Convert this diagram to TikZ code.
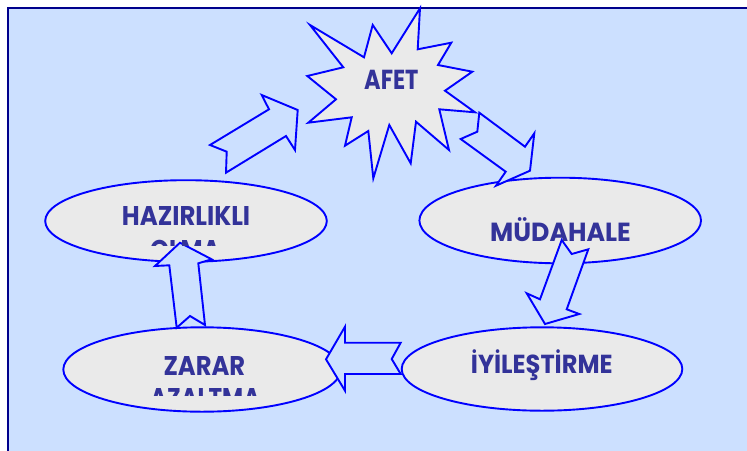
\documentclass[tikz,border=0pt]{standalone}
\usepackage{fontspec}
\setmainfont{Poppins}
\definecolor{bgblue}{RGB}{204,224,255}
\definecolor{framenavy}{RGB}{0,0,140}
\definecolor{shapeblue}{RGB}{0,0,255}
\definecolor{shapegray}{RGB}{234,234,234}
\definecolor{txtblue}{RGB}{51,51,153}
\newlength\fitW
\newlength\fitH
\newcommand\fittext[3]{%
  \settowidth\fitW{\bfseries #3}%
  \settoheight\fitH{\bfseries H}%
  \pgfmathsetmacro\fitsx{#1/\fitW}%
  \pgfmathsetmacro\fitsy{#2/\fitH}%
  \scalebox{\fitsx}[\fitsy]{\bfseries #3}}
\tikzset{
  outl/.style={draw=shapeblue, line width=1.9pt, line join=miter},
  bubble/.style={outl, fill=shapegray},
  blockarrow/.style={outl, fill=bgblue},
  lbl/.style={anchor=base west, inner sep=0pt, text=txtblue},
}
\begin{document}
\begin{tikzpicture}[x=1pt,y=-1pt]
\useasboundingbox (0,0) rectangle (747,450);
\fill[white] (0,0) rectangle (747,450);
\draw[fill=bgblue, draw=framenavy, line width=2pt] (8,7.5) rectangle (770,470);
% star
\draw[bubble] (310,25) -- (364,57.3) -- (372.7,25) -- (391.7,53.3) -- (420,8.3) -- (417.7,49.3)
  -- (451.3,42.7) -- (438,65) -- (472.3,71.7) -- (445,90.7) -- (475,112.3) -- (439.3,109.3)
  -- (449,150) -- (416,121.7) -- (410.7,163.3) -- (389.3,125) -- (373.3,178.3) -- (368.3,131)
  -- (345,145.7) -- (351.7,117.3) -- (308.3,122.7) -- (336,99.3) -- (307.3,76) -- (343.3,67.3) -- cycle;
% ellipses
\draw[bubble] (186,221) ellipse [x radius=140.8, y radius=40.8];
\draw[bubble] (560.2,220.5) ellipse [x radius=140.8, y radius=42.8];
\draw[bubble] (542,369) ellipse [x radius=140.3, y radius=41.7];
\draw[bubble] (202,369.5) ellipse [x radius=138.7, y radius=42.2];
% block arrows
\draw[blockarrow] (210,145) -- (226.7,151.7) -- (226,172.7) -- (286,136) -- (295,150) -- (297.7,110) -- (261.7,95) -- (269,109.3) -- cycle;
\draw[blockarrow] (479.3,112.7) -- (525,146.7) -- (534.3,133.3) -- (530,170.7) -- (496,185.7) -- (505.7,171.7) -- (460.7,139) -- (477.3,131.7) -- cycle;
\draw[blockarrow] (561.7,240) -- (571.7,254) -- (588.3,249.3) -- (566.7,309.3) -- (579.3,314) -- (545,324) -- (526.7,293.3) -- (540,299.3) -- cycle;
\draw[blockarrow] (326,359.3) -- (345,326.7) -- (345,342.7) -- (400.7,342.7) -- (391.7,359) -- (400.7,374) -- (345,374) -- (345,390.7) -- cycle;
\draw[blockarrow] (180,242.7) -- (211.7,259.3) -- (198.3,263.3) -- (205,325) -- (190,316) -- (176.7,327.7) -- (169.3,265.3) -- (155,266) -- cycle;
% texts
\node[lbl] (afet) at (364,89.3) {\fittext{54.3pt}{19.3pt}{AFET}};
\node[lbl] (haz) at (121.7,225) {\fittext{128.3pt}{19pt}{HAZIRLIKLI}};
\node[lbl] (mud) at (490,241.7) {\fittext{140.7pt}{18.4pt}{MÜDAHALE}};
\node[lbl] (iyi) at (470.7,373.3) {\fittext{141.7pt}{18.3pt}{İYİLEŞTİRME}};
\node[lbl] (zar) at (163.3,375) {\fittext{81.7pt}{19pt}{ZARAR}};
\begin{scope}
  \clip (100,230) rectangle (280,245.5);
  \node[lbl] (olma) at (150,259) {\fittext{70pt}{19pt}{OLMA}};
\end{scope}
\begin{scope}
  \clip (120,380) rectangle (290,395);
  \node[lbl] (azal) at (150,407.3) {\fittext{110pt}{19pt}{AZALTMA}};
\end{scope}
\end{tikzpicture}
\end{document}
